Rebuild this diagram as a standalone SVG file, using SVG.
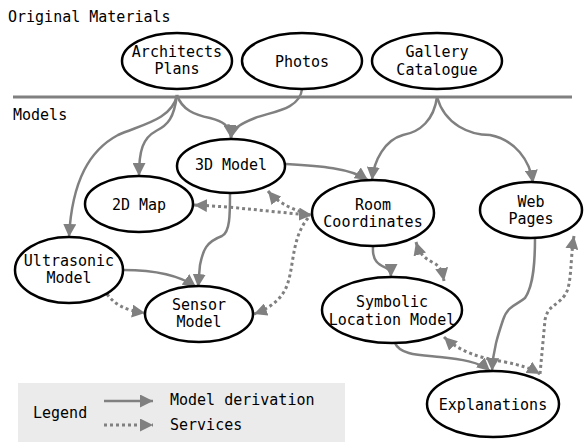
<svg xmlns="http://www.w3.org/2000/svg" width="586" height="442" viewBox="0 0 586 442">
<style>
text{font-family:"DejaVu Sans Mono","Liberation Mono",monospace;font-size:15px;fill:#000}
.c{text-anchor:middle}
.n ellipse{fill:#fff;stroke:#000;stroke-width:2.5}
.d{fill:none;stroke:#808080;stroke-width:2.5}
.s{fill:none;stroke:#808080;stroke-width:3;stroke-dasharray:3 3}
</style>
<defs>
<marker id="ah" viewBox="0 0 12 12" refX="12" refY="6" markerWidth="13" markerHeight="13" markerUnits="userSpaceOnUse" orient="auto-start-reverse">
<path d="M0,0 L12,6 L0,12 z" fill="#808080"/>
</marker>
</defs>
<rect x="0" y="0" width="586" height="442" fill="#fff"/>
<text x="8" y="22">Original Materials</text>
<line x1="13" y1="97" x2="572" y2="97" stroke="#808080" stroke-width="3"/>
<text x="13" y="120">Models</text>
<g id="legend">
<rect x="18" y="383" width="327" height="59" fill="#ebebeb"/>
<text x="33" y="418">Legend</text>
<path class="d" d="M104,401 L153,401" marker-end="url(#ah)"/>
<path class="s" d="M104,425 L153,425" marker-end="url(#ah)"/>
<text x="170" y="405">Model derivation</text>
<text x="170" y="430">Services</text>
</g>
<g id="connectors">
<path class="d" d="M177,95 C172,120 140,125 118,135 C90,150 72,180 69,237" marker-end="url(#ah)"/>
<path class="d" d="M177,95 C174,118 168,125 156,131 C143,138 139,150 139,176" marker-end="url(#ah)"/>
<path class="d" d="M177,95 C182,110 195,115 210,118 C222,121 230,125 231,138" marker-end="url(#ah)"/>
<path class="d" d="M302,89 C300,110 270,112 255,118 C240,124 233,128 231,138" marker-end="url(#ah)"/>
<path class="d" d="M437,97 C434,120 420,132 403,135 C385,140 374,160 372,180" marker-end="url(#ah)"/>
<path class="d" d="M437,97 C445,125 470,135 490,135 C515,140 530,160 533,183" marker-end="url(#ah)"/>
<path class="d" d="M286,164 C320,166 350,168 368,180" marker-end="url(#ah)"/>
<path class="d" d="M230,193 C230,215 230,232 222,236 C206,242 203,250 200,265 L198,287" marker-end="url(#ah)"/>
<path class="d" d="M123,270 C150,270 178,274 196,287" marker-end="url(#ah)"/>
<path class="d" d="M373,247 C372,262 380,265 386,268 C390,270 391,273 391,277" marker-end="url(#ah)"/>
<path class="d" d="M395,343 C400,355 420,355 440,357 C460,359 480,362 490,371" marker-end="url(#ah)"/>
<path class="d" d="M535,238 C535,260 534,285 525,298 C517,305 508,305 503,320 C498,335 493,350 492,371" marker-end="url(#ah)"/>
<path class="s" d="M194,205 C240,207 270,212 312,215" marker-start="url(#ah)" marker-end="url(#ah)"/>
<path class="s" d="M268,191 C280,205 295,210 310,215" marker-start="url(#ah)"/>
<path class="s" d="M308,218 C290,240 295,270 285,290 C278,303 265,310 254,314" marker-end="url(#ah)"/>
<path class="s" d="M107,294 C115,305 125,310 145,313" marker-end="url(#ah)"/>
<path class="s" d="M416,242 C420,255 425,258 432,262 C440,266 442,270 444,281" marker-start="url(#ah)" marker-end="url(#ah)"/>
<path class="s" d="M444,337 C460,352 480,358 505,362 C520,365 530,368 540,374" marker-start="url(#ah)" marker-end="url(#ah)"/>
<path class="s" d="M574,236 C570,260 572,285 565,295 C555,308 548,305 545,320 L540,374" marker-start="url(#ah)"/>
</g>
<g id="architects-plans" class="n"><ellipse cx="177" cy="61" rx="55" ry="28"/><text class="c" x="177" y="57">Architects</text><text class="c" x="177" y="74">Plans</text></g>
<g id="photos" class="n"><ellipse cx="302" cy="61" rx="60" ry="28"/><text class="c" x="302" y="67">Photos</text></g>
<g id="gallery-catalogue" class="n"><ellipse cx="437" cy="61" rx="65" ry="28"/><text class="c" x="437" y="57">Gallery</text><text class="c" x="437" y="75">Catalogue</text></g>
<g id="model-3d" class="n"><ellipse cx="231" cy="166" rx="54" ry="27"/><text class="c" x="231" y="170">3D Model</text></g>
<g id="map-2d" class="n"><ellipse cx="139" cy="204" rx="54" ry="28"/><text class="c" x="139" y="210">2D Map</text></g>
<g id="ultrasonic-model" class="n"><ellipse cx="69" cy="270" rx="54" ry="33"/><text class="c" x="69" y="266">Ultrasonic</text><text class="c" x="69" y="283">Model</text></g>
<g id="sensor-model" class="n"><ellipse cx="199" cy="314" rx="54" ry="28"/><text class="c" x="199" y="310">Sensor</text><text class="c" x="199" y="327">Model</text></g>
<g id="room-coordinates" class="n"><ellipse cx="373" cy="213" rx="61" ry="33"/><text class="c" x="373" y="210">Room</text><text class="c" x="373" y="227">Coordinates</text></g>
<g id="web-pages" class="n"><ellipse cx="531" cy="210" rx="51" ry="28"/><text class="c" x="531" y="207">Web</text><text class="c" x="531" y="224">Pages</text></g>
<g id="symbolic-location-model" class="n"><ellipse cx="392" cy="310" rx="70" ry="33"/><text class="c" x="392" y="307">Symbolic</text><text class="c" x="392" y="325">Location Model</text></g>
<g id="explanations" class="n"><ellipse cx="493" cy="404" rx="66" ry="33"/><text class="c" x="493" y="410">Explanations</text></g>
</svg>
